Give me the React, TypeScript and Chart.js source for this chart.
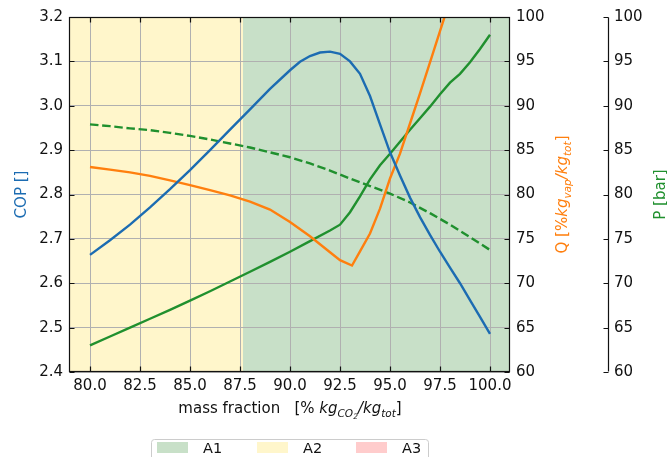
import React, { useEffect, useRef } from 'react';
import { Chart, registerables } from 'chart.js';

Chart.register(...registerables);

const FONT = '"DejaVu Sans", sans-serif';

// Tick labels
const xTickValues = [80, 82.5, 85, 87.5, 90, 92.5, 95, 97.5, 100];
const copTickValues = [2.4, 2.5, 2.6, 2.7, 2.8, 2.9, 3.0, 3.1, 3.2];
const rightTickValues = [60, 65, 70, 75, 80, 85, 90, 95, 100];

// COP (left axis)
const copMass = [80, 81, 82, 83, 84, 85, 86, 87, 88, 89, 90, 90.5, 91, 91.5, 92, 92.5, 93, 93.5, 94, 94.5, 95, 95.5, 96, 96.5, 97, 97.5, 98, 98.5, 99, 99.5, 100];
const copValues = [2.664, 2.697, 2.732, 2.771, 2.812, 2.855, 2.9, 2.946, 2.992, 3.038, 3.08, 3.099, 3.112, 3.12, 3.122, 3.117, 3.1, 3.072, 3.022, 2.958, 2.895, 2.843, 2.793, 2.749, 2.709, 2.671, 2.635, 2.6, 2.562, 2.524, 2.486];

// Q (orange, right axis)
const qMass = [80, 81, 82, 83, 84, 85, 86, 87, 88, 89, 90, 91, 92, 92.5, 93.1, 93.5, 94, 94.5, 95, 95.5, 96, 96.5, 97, 97.5, 98];
const qValues = [83.1, 82.8, 82.5, 82.1, 81.6, 81.05, 80.5, 79.9, 79.2, 78.3, 76.9, 75.3, 73.5, 72.6, 72.0, 73.6, 75.6, 78.4, 81.8, 84.6, 88.0, 91.4, 94.9, 98.4, 101.9];

// P (green solid, outer right axis)
const pMass = [80, 81, 82, 83, 84, 85, 86, 87, 88, 89, 90, 91, 92, 92.5, 93, 93.5, 94, 94.5, 95, 95.5, 96, 96.5, 97, 97.5, 98, 98.5, 99, 99.5, 100];
const pValues = [63.0, 64.0, 65.0, 66.0, 67.0, 68.05, 69.1, 70.2, 71.3, 72.4, 73.55, 74.75, 75.95, 76.6, 78.0, 79.8, 81.7, 83.3, 84.6, 85.95, 87.3, 88.6, 89.9, 91.3, 92.6, 93.6, 94.9, 96.4, 98.0];

// P dashed (green dashed, outer right axis)
const pDashMass = [80, 81, 82, 83, 84, 85, 86, 87, 88, 89, 90, 91, 92, 93, 94, 95, 96, 97, 98, 99, 100];
const pDashValues = [87.9, 87.7, 87.45, 87.25, 86.95, 86.6, 86.2, 85.75, 85.3, 84.75, 84.2, 83.5, 82.7, 81.8, 80.95, 80.1, 79.1, 77.9, 76.6, 75.2, 73.75];

// Regions
const regionNames = ['A1', 'A2', 'A3'];
const regionColors = ['#c8e0c8', '#fff6cb', '#ffcccc'];
const regionStarts: (number | null)[] = [87.65, 79, null];
const regionEnds: (number | null)[] = [101, 87.65, null];

const BLUE = '#1c6cb2';
const ORANGE = '#ff7f0e';
const GREEN = '#20902e';

type Seg = { t: string; italic?: boolean; size: number; dy?: number };

function drawRich(ctx: CanvasRenderingContext2D, segs: Seg[], cx: number, cy: number, rotate: boolean, color: string) {
  ctx.save();
  ctx.translate(cx, cy);
  if (rotate) ctx.rotate(-Math.PI / 2);
  ctx.fillStyle = color;
  ctx.textBaseline = 'alphabetic';
  ctx.textAlign = 'left';
  let total = 0;
  const widths = segs.map((s) => {
    ctx.font = `${s.italic ? 'italic ' : ''}${s.size}px ${FONT}`;
    const w = ctx.measureText(s.t).width;
    total += w;
    return w;
  });
  let x = -total / 2;
  segs.forEach((s, i) => {
    ctx.font = `${s.italic ? 'italic ' : ''}${s.size}px ${FONT}`;
    ctx.fillText(s.t, x, s.dy || 0);
    x += widths[i];
  });
  ctx.restore();
}

const decorPlugin = {
  id: 'decor',
  beforeDraw(chart: any) {
    const { ctx, chartArea: a, scales } = chart;
    const xs = scales.x;
    ctx.save();
    regionStarts.forEach((s, i) => {
      const e = regionEnds[i];
      if (s == null || e == null) return;
      const x0 = xs.getPixelForValue(s);
      const x1 = xs.getPixelForValue(e);
      ctx.fillStyle = regionColors[i];
      ctx.fillRect(x0, a.top, x1 - x0, a.bottom - a.top);
    });
    ctx.restore();
  },
  afterDraw(chart: any) {
    const { ctx, chartArea: a, scales } = chart;
    const L = Math.round(a.left) - 0.5;
    const R = Math.round(a.right) - 0.5;
    const T = Math.round(a.top) + 0.5;
    const B = Math.round(a.bottom) - 0.5;
    ctx.save();
    ctx.strokeStyle = '#111';
    ctx.lineWidth = 1.2;
    ctx.strokeRect(L, T, R - L, B - T);
    // inward ticks
    const tl = 5;
    ctx.beginPath();
    xTickValues.forEach((v) => {
      const px = Math.round(scales.x.getPixelForValue(v)) + 0.5;
      ctx.moveTo(px, B); ctx.lineTo(px, B - tl);
      ctx.moveTo(px, T); ctx.lineTo(px, T + tl);
    });
    copTickValues.forEach((v) => {
      const py = Math.round(scales.y.getPixelForValue(v)) + 0.5;
      ctx.moveTo(L, py); ctx.lineTo(L + tl, py);
    });
    rightTickValues.forEach((v) => {
      const py = Math.round(scales.q.getPixelForValue(v)) + 0.5;
      ctx.moveTo(R, py); ctx.lineTo(R - tl, py);
    });
    // outer P spine
    const P = Math.round(scales.p.left) + 0.5;
    ctx.moveTo(P, T); ctx.lineTo(P, B);
    rightTickValues.forEach((v) => {
      const py = Math.round(scales.p.getPixelForValue(v)) + 0.5;
      ctx.moveTo(P, py); ctx.lineTo(P - tl, py);
    });
    ctx.stroke();
    ctx.restore();

    const midY = (a.top + a.bottom) / 2;
    const fs = 15;
    // Left title
    drawRich(ctx, [{ t: 'COP []', size: fs }], 26, midY, true, BLUE);
    // Q title
    drawRich(
      ctx,
      [
        { t: 'Q [%', size: fs },
        { t: 'kg', italic: true, size: fs },
        { t: 'vap', italic: true, size: fs * 0.7, dy: 3.5 },
        { t: '/', italic: true, size: fs },
        { t: 'kg', italic: true, size: fs },
        { t: 'tot', italic: true, size: fs * 0.7, dy: 3.5 },
        { t: ']', size: fs },
      ],
      567,
      midY,
      true,
      ORANGE
    );
    // P title
    drawRich(ctx, [{ t: 'P [bar]', size: fs }], 665, midY, true, GREEN);
    // X title
    drawRich(
      ctx,
      [
        { t: 'mass fraction   [% ', size: fs },
        { t: 'kg', italic: true, size: fs },
        { t: 'CO', italic: true, size: fs * 0.7, dy: 3.5 },
        { t: '2', italic: true, size: fs * 0.5, dy: 5.5 },
        { t: '/', italic: true, size: fs },
        { t: 'kg', italic: true, size: fs },
        { t: 'tot', italic: true, size: fs * 0.7, dy: 3.5 },
        { t: ']', size: fs },
      ],
      (a.left + a.right) / 2,
      413,
      false,
      '#111'
    );

    // Legend
    ctx.save();
    const lx = 151.5, ly = 439.5, lw = 277, lh = 30, r = 3;
    ctx.fillStyle = 'rgba(255,255,255,0.8)';
    ctx.strokeStyle = '#cccccc';
    ctx.lineWidth = 1;
    ctx.beginPath();
    ctx.moveTo(lx + r, ly);
    ctx.lineTo(lx + lw - r, ly);
    ctx.quadraticCurveTo(lx + lw, ly, lx + lw, ly + r);
    ctx.lineTo(lx + lw, ly + lh);
    ctx.lineTo(lx, ly + lh);
    ctx.lineTo(lx, ly + r);
    ctx.quadraticCurveTo(lx, ly, lx + r, ly);
    ctx.closePath();
    ctx.fill();
    ctx.stroke();
    const patchX = [157, 257, 356];
    ctx.font = `14.5px ${FONT}`;
    ctx.textBaseline = 'alphabetic';
    ctx.textAlign = 'left';
    regionNames.forEach((n, i) => {
      ctx.fillStyle = regionColors[i];
      ctx.fillRect(patchX[i], 442, 31, 11);
      ctx.fillStyle = '#111';
      ctx.fillText(n, patchX[i] + 46, 453);
    });
    ctx.restore();
  },
};

function makeSeries(xs: number[], ys: number[]) {
  return xs.map((x, i) => ({ x, y: ys[i] }));
}

export default function App() {
  const ref = useRef<HTMLCanvasElement | null>(null);
  useEffect(() => {
    document.body.style.margin = '0';
    if (!ref.current) return;
    const tickFont = { family: FONT, size: 15 };
    const setTicks = (vals: number[]) => (s: any) => {
      s.ticks = vals.map((v) => ({ value: v }));
    };
    const lw = 2.4;
    const chart = new Chart(ref.current, {
      type: 'line',
      data: {
        datasets: [
          { data: makeSeries(copMass, copValues), yAxisID: 'y', borderColor: BLUE, borderWidth: lw, pointRadius: 0, tension: 0, clip: 0 } as any,
          { data: makeSeries(qMass, qValues), yAxisID: 'q', borderColor: ORANGE, borderWidth: lw, pointRadius: 0, tension: 0, clip: 0 } as any,
          { data: makeSeries(pMass, pValues), yAxisID: 'p', borderColor: GREEN, borderWidth: lw, pointRadius: 0, tension: 0, clip: 0 } as any,
          { data: makeSeries(pDashMass, pDashValues), yAxisID: 'p', borderColor: GREEN, borderWidth: lw, borderDash: [8.5, 3.7], pointRadius: 0, tension: 0, clip: 0 } as any,
        ],
      },
      options: {
        animation: false,
        responsive: false,
        layout: { padding: { top: 17, left: 0, right: 0, bottom: 0 } },
        plugins: { legend: { display: false }, tooltip: { enabled: false } },
        scales: {
          x: {
            type: 'linear',
            min: 79,
            max: 101,
            afterBuildTicks: setTicks(xTickValues),
            afterFit: (s: any) => { s.height = 85; },
            grid: { color: '#b0b0b0', lineWidth: 1, drawTicks: false },
            border: { display: false },
            ticks: { padding: 5, color: '#111', font: tickFont, autoSkip: false, maxRotation: 0, callback: (v: any) => Number(v).toFixed(1) },
          },
          y: {
            type: 'linear',
            position: 'left',
            min: 2.4,
            max: 3.2,
            afterBuildTicks: setTicks(copTickValues),
            afterFit: (s: any) => { s.width = 70; },
            grid: { color: '#b0b0b0', lineWidth: 1, drawTicks: false },
            border: { display: false },
            ticks: { padding: 7, color: '#111', font: tickFont, autoSkip: false, callback: (v: any) => Number(v).toFixed(1) },
          },
          q: {
            type: 'linear',
            position: 'right',
            min: 60,
            max: 100,
            afterBuildTicks: setTicks(rightTickValues),
            afterFit: (s: any) => { s.width = 98; },
            grid: { display: false, drawTicks: false },
            border: { display: false },
            ticks: { padding: 6, color: '#111', font: tickFont, autoSkip: false, callback: (v: any) => String(v) },
          },
          p: {
            type: 'linear',
            position: 'right',
            min: 60,
            max: 100,
            afterBuildTicks: setTicks(rightTickValues),
            afterFit: (s: any) => { s.width = 59; },
            grid: { display: false, drawTicks: false },
            border: { display: false },
            ticks: { padding: 6, color: '#111', font: tickFont, autoSkip: false, callback: (v: any) => String(v) },
          },
        },
      },
      plugins: [decorPlugin],
    } as any);
    return () => chart.destroy();
  }, []);
  return (
    <div style={{ width: 667, height: 457 }}>
      <canvas ref={ref} width={667} height={457} style={{ display: 'block' }} />
    </div>
  );
}
